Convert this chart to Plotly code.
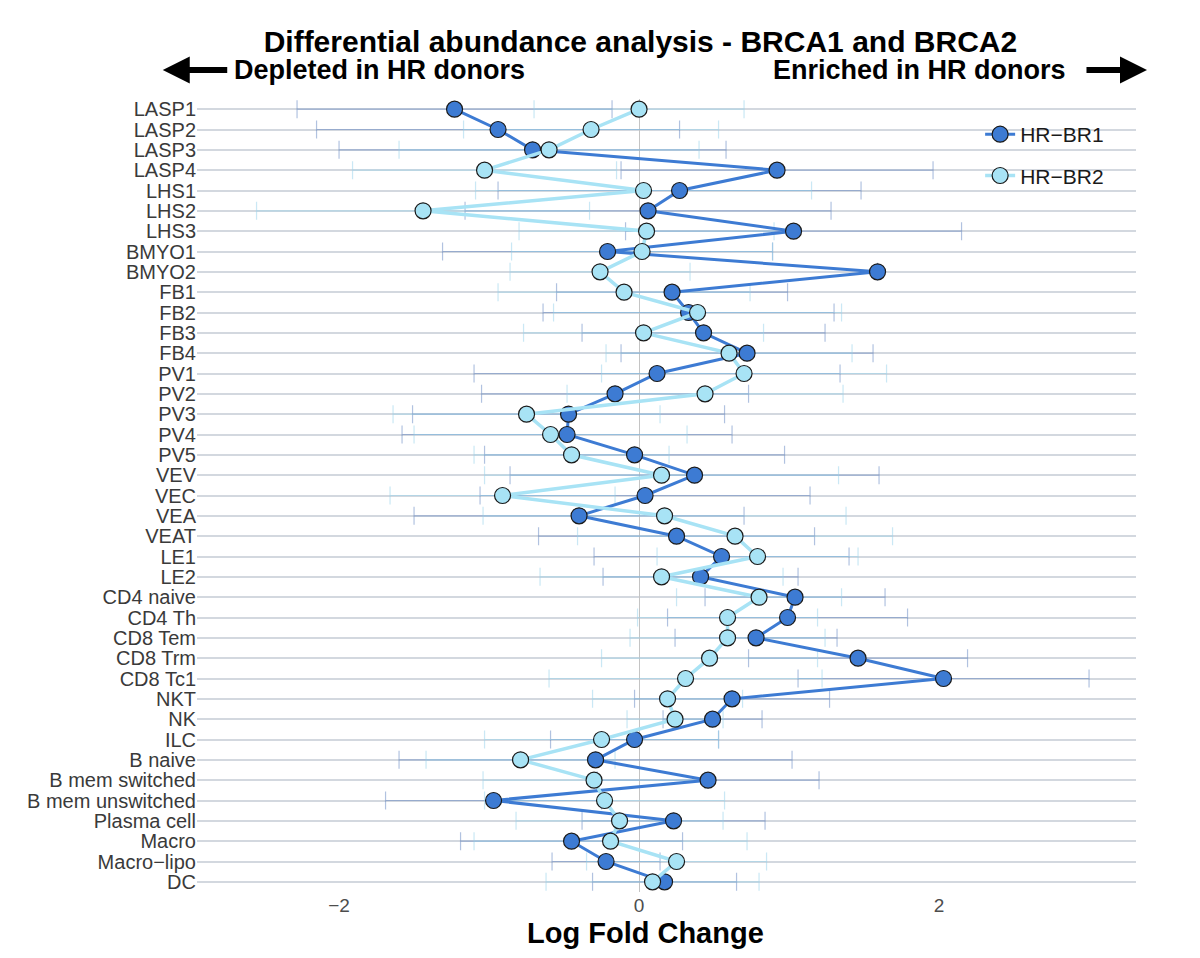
import plotly.graph_objects as go

# cell types, top to bottom
cell_types = ["LASP1", "LASP2", "LASP3", "LASP4", "LHS1", "LHS2", "LHS3", "BMYO1", "BMYO2",
              "FB1", "FB2", "FB3", "FB4", "PV1", "PV2", "PV3", "PV4", "PV5",
              "VEV", "VEC", "VEA", "VEAT", "LE1", "LE2",
              "CD4 naive", "CD4 Th", "CD8 Tem", "CD8 Trm", "CD8 Tc1", "NKT", "NK", "ILC",
              "B naive", "B mem switched", "B mem unswitched", "Plasma cell",
              "Macro", "Macro\u2212lipo", "DC"]

# log fold change per donor group
lfc_br1 = [-1.23, -0.94, -0.71, 0.92, 0.27, 0.06, 1.03, -0.21, 1.59,
           0.22, 0.33, 0.43, 0.72, 0.12, -0.16, -0.47, -0.48, -0.03,
           0.37, 0.04, -0.40, 0.25, 0.55, 0.41,
           1.04, 0.99, 0.78, 1.46, 2.03, 0.62, 0.49, -0.03,
           -0.29, 0.46, -0.97, 0.23,
           -0.45, -0.22, 0.17]
lfc_br2 = [0.00, -0.32, -0.60, -1.03, 0.03, -1.44, 0.05, 0.02, -0.26,
           -0.10, 0.39, 0.03, 0.60, 0.70, 0.44, -0.75, -0.59, -0.45,
           0.15, -0.91, 0.17, 0.64, 0.79, 0.15,
           0.80, 0.59, 0.59, 0.47, 0.31, 0.19, 0.24, -0.25,
           -0.79, -0.30, -0.23, -0.13,
           -0.19, 0.25, 0.09]

# half-width of the interval
err_br1 = [1.05, 1.21, 1.29, 1.04, 1.21, 1.22, 1.12, 1.10, 0.0,
           0.77, 0.97, 0.81, 0.84, 1.22, 0.89, 1.04, 1.10, 1.00,
           1.23, 1.10, 1.10, 0.92, 0.85, 0.65,
           0.60, 0.80, 0.54, 0.73, 0.97, 0.65, 0.33, 0.56,
           1.31, 0.74, 0.72, 0.61,
           0.74, 0.36, 0.48]
err_br2 = [0.70, 0.85, 1.00, 0.88, 1.12, 1.11, 0.85, 0.87, 0.60,
           0.84, 0.96, 0.80, 0.82, 0.95, 0.92, 0.89, 0.91, 0.65,
           1.18, 0.75, 1.21, 1.05, 0.67, 0.81,
           0.55, 0.60, 0.65, 0.72, 0.91, 0.50, 0.32, 0.78,
           0.63, 0.74, 0.80, 0.69,
           0.91, 0.60, 0.71]

x_ticks = [-2, 0, 2]

C1 = "#3d7bd3"
C2 = "#a8e3f5"
FONT = "Liberation Sans, Arial, sans-serif"

fig = go.Figure()

# error bars first so they sit behind everything
fig.add_trace(go.Scatter(
    x=lfc_br1, y=cell_types, mode="markers",
    marker=dict(size=1, color="rgba(0,0,0,0)"),
    error_x=dict(type="data", array=err_br1, color="rgba(70,110,180,0.42)", thickness=1.2, width=9),
    showlegend=False, hoverinfo="skip"))
fig.add_trace(go.Scatter(
    x=lfc_br2, y=cell_types, mode="markers",
    marker=dict(size=1, color="rgba(0,0,0,0)"),
    error_x=dict(type="data", array=err_br2, color="rgba(150,210,235,0.5)", thickness=1.2, width=9),
    showlegend=False, hoverinfo="skip"))

fig.add_trace(go.Scatter(
    x=lfc_br1, y=cell_types, mode="lines+markers", name="HR\u2212BR1", legendgroup="a",
    line=dict(color=C1, width=3),
    marker=dict(size=16, color=C1, line=dict(color="#1a1a1a", width=1.2))))
fig.add_trace(go.Scatter(
    x=lfc_br2, y=cell_types, mode="lines+markers", name="HR\u2212BR2", legendgroup="b",
    line=dict(color=C2, width=3.5),
    marker=dict(size=16, color=C2, line=dict(color="#1a1a1a", width=1.2))))

fig.update_layout(
    width=1200, height=958,
    paper_bgcolor="white", plot_bgcolor="white",
    margin=dict(l=189, r=72, t=91, b=74),
    font=dict(family=FONT, color="#333333"),
    title=dict(text="<b>Differential abundance analysis - BRCA1 and BRCA2</b>",
               x=0.527, xanchor="center", y=1 - 33 / 958, yanchor="middle",
               font=dict(size=30, color="black")),
    legend=dict(x=0.834, y=0.981, xanchor="left", yanchor="top",
                font=dict(size=21, color="#1a1a1a"), tracegroupgap=11,
                bgcolor="rgba(0,0,0,0)"),
    xaxis=dict(range=[-2.947, 3.313], tickvals=x_ticks, showgrid=False,
               zeroline=True, zerolinecolor="#c4c4c4", zerolinewidth=1.2,
               ticks="", tickfont=dict(size=19, color="#4d4d4d"), showline=False),
    yaxis=dict(categoryorder="array", categoryarray=cell_types,
               range=[len(cell_types) - 0.5, -0.5], tickmode="array", tickvals=cell_types,
               showgrid=True, gridcolor="#d3d8df", gridwidth=2, ticks="",
               tickfont=dict(size=20, color="#3a3a3a"), showline=False),
)

# axis title and direction labels
fig.add_annotation(text="<b>Log Fold Change</b>", xref="paper", yref="paper",
                   x=0.478, y=-0.0517, xanchor="center", yanchor="middle",
                   showarrow=False, font=dict(size=29, color="black"))
fig.add_annotation(text="<b>Depleted in HR donors</b>", xref="paper", yref="paper",
                   x=0.0373, y=1.0366, xanchor="left", yanchor="middle",
                   showarrow=False, font=dict(size=27, color="black"))
fig.add_annotation(text="<b>Enriched in HR donors</b>", xref="paper", yref="paper",
                   x=0.9276, y=1.0366, xanchor="right", yanchor="middle",
                   showarrow=False, font=dict(size=27, color="black"))
fig.add_annotation(text="", xref="paper", yref="paper", x=-0.0365, y=1.0366,
                   ax=66, ay=0, showarrow=True, arrowhead=2, arrowsize=0.9,
                   arrowwidth=6, arrowcolor="black")
fig.add_annotation(text="", xref="paper", yref="paper", x=1.0117, y=1.0366,
                   ax=-62, ay=0, showarrow=True, arrowhead=2, arrowsize=0.9,
                   arrowwidth=6, arrowcolor="black")

fig.write_html("out.html")
